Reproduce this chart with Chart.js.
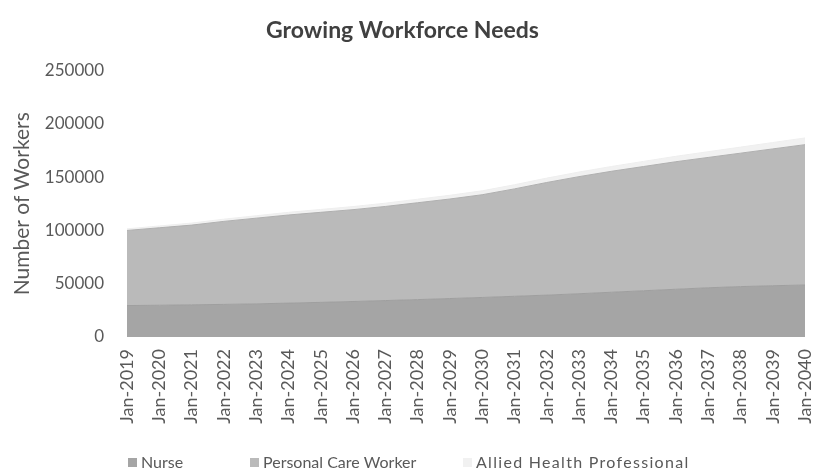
<!DOCTYPE html>
<html>
<head>
<meta charset="utf-8">
<script src="https://cdn.jsdelivr.net/npm/chart.js@4.4.1/dist/chart.umd.min.js"></script>
<style>
  html, body { margin: 0; padding: 0; background: #ffffff; }
  #wrap { width: 816px; height: 475px; position: relative; }
</style>
</head>
<body>
<div id="wrap"><canvas id="chart" width="816" height="475"></canvas></div>
<script>
// Projected workforce (number of workers), January of each year
const years = ['Jan-2019','Jan-2020','Jan-2021','Jan-2022','Jan-2023','Jan-2024','Jan-2025',
  'Jan-2026','Jan-2027','Jan-2028','Jan-2029','Jan-2030','Jan-2031','Jan-2032','Jan-2033',
  'Jan-2034','Jan-2035','Jan-2036','Jan-2037','Jan-2038','Jan-2039','Jan-2040'];

const nurse = [29500, 29800, 30200, 30600, 31100, 31800, 32500, 33300, 34200, 35100, 36100,
  37100, 38200, 39300, 40600, 42000, 43400, 44800, 46200, 47300, 48100, 48800];

const personalCare = [70500, 72700, 74800, 77900, 80400, 82700, 84500, 86200, 88300, 90900, 93400,
  96400, 100800, 105700, 109900, 113500, 116600, 119700, 122300, 125200, 128400, 131700];

const allied = [1500, 1700, 1900, 2100, 2300, 2500, 2700, 2900, 3100, 3300, 3500,
  3700, 3900, 4100, 4300, 4500, 4800, 5100, 5400, 5700, 6000, 6300];

const seriesNames = ['Nurse', 'Personal Care Worker', 'Allied Health Professional'];
const yTickValues = [0, 50000, 100000, 150000, 200000, 250000];

const fills = ['#a5a5a5', '#bababa', '#f1f1f1'];
const textColor = '#595959';
const fontFamily = 'Lato, "Open Sans", sans-serif';

// Legend drawn along the bottom with fixed entry positions
const bottomLegend = {
  id: 'bottomLegend',
  afterDraw(chart) {
    const ctx = chart.ctx;
    const xs = [128, 250, 463];
    const y = 463;
    ctx.save();
    ctx.font = '16px ' + fontFamily;
    ctx.textBaseline = 'middle';
    ctx.textAlign = 'left';
    chart.data.datasets.forEach((ds, i) => {
      ctx.fillStyle = ds.backgroundColor;
      ctx.fillRect(xs[i], y - 5, 9, 9);
      ctx.fillStyle = textColor;
      if (i === 2) ctx.letterSpacing = '1.3px';
      ctx.fillText(ds.label, xs[i] + 13, y);
      ctx.letterSpacing = '0px';
    });
    ctx.restore();
  }
};

new Chart(document.getElementById('chart'), {
  type: 'line',
  data: {
    labels: years,
    datasets: [
      { label: seriesNames[0], data: nurse, backgroundColor: fills[0], borderColor: '#9f9f9f',
        borderWidth: 1, fill: 'origin', pointRadius: 0, tension: 0 },
      { label: seriesNames[1], data: personalCare, backgroundColor: fills[1], borderColor: '#b0b0b0',
        borderWidth: 1, fill: '-1', pointRadius: 0, tension: 0 },
      { label: seriesNames[2], data: allied, backgroundColor: fills[2], borderColor: '#efefef',
        borderWidth: 1, fill: '-1', pointRadius: 0, tension: 0 }
    ]
  },
  options: {
    responsive: false,
    animation: false,
    layout: { padding: { top: 0, left: 0, right: 11, bottom: 0 } },
    plugins: {
      legend: { display: false },
      tooltip: { enabled: false },
      title: {
        display: true,
        text: 'Growing Workforce Needs',
        color: '#404040',
        font: { family: fontFamily, size: 23, weight: 'bold' },
        padding: { top: 17, bottom: 26 }
      }
    },
    scales: {
      x: {
        offset: false,
        grid: { display: false, drawTicks: false },
        border: { display: false },
        ticks: {
          color: textColor,
          font: { family: fontFamily, size: 18 },
          minRotation: 90, maxRotation: 90,
          autoSkip: false,
          padding: 12
        },
        afterFit(scale) {
          scale.height = 138;
          scale.paddingLeft = 0;
          scale.paddingRight = 0;
        }
      },
      y: {
        stacked: true,
        min: 0, max: 250000,
        afterBuildTicks(scale) { scale.ticks = yTickValues.map(v => ({ value: v })); },
        grid: { display: false, drawTicks: false },
        border: { display: false },
        ticks: {
          color: textColor,
          font: { family: fontFamily, size: 17 },
          padding: 23,
          callback: v => String(v)
        },
        title: {
          display: true,
          text: 'Number of Workers',
          color: textColor,
          font: { family: fontFamily, size: 21 },
          padding: { top: 10, bottom: 0 }
        },
        afterFit(scale) { scale.width = 127; }
      }
    }
  },
  plugins: [bottomLegend]
});
</script>
</body>
</html>
